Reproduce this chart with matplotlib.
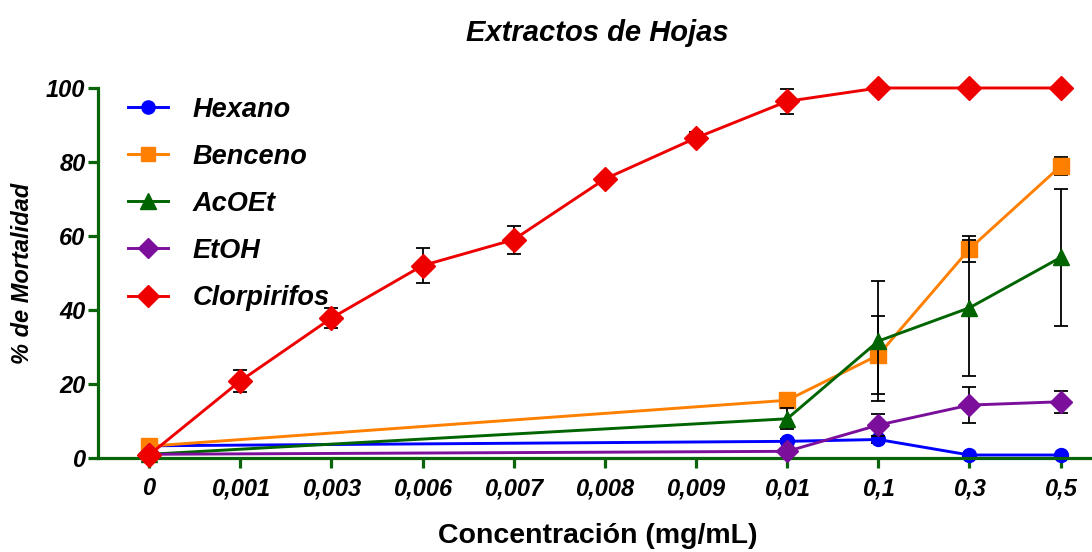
import numpy as np
import matplotlib.pyplot as plt

plt.rcParams['font.family'] = ['Liberation Sans', 'DejaVu Sans']

conc_labels = ['0', '0,001', '0,003', '0,006', '0,007', '0,008', '0,009',
               '0,01', '0,1', '0,3', '0,5']
# extracts only measured at 0, 0,01, 0,1, 0,3, 0,5
ext_idx = [0, 7, 8, 9, 10]

hexano = [3.3, 4.5, 5.0, 0.8, 0.8]
hexano_err = [0.5, 0.5, 1.0, 0.3, 0.3]
benceno = [3.2, 15.6, 27.8, 56.5, 78.9]
benceno_err = [0.5, 2.0, 10.5, 3.5, 2.4]
acoet = [1.0, 10.6, 31.6, 40.6, 54.2]
acoet_err = [0.3, 2.8, 16.2, 18.4, 18.5]
etoh = [1.0, 1.8, 8.9, 14.3, 15.2]
etoh_err = [0.3, 0.3, 3.0, 4.8, 3.0]
clorpirifos = [0.8, 20.8, 37.8, 52.0, 59.0, 75.4, 86.5, 96.4, 100, 100, 100]
clorpirifos_err = [0.3, 3.0, 2.7, 4.7, 3.8, 1.0, 1.5, 3.3, 0, 0, 0]

axis_green = '#0a640a'

fig = plt.figure(figsize=(10.92, 5.52), dpi=100)
ax = fig.add_axes([0.0897, 0.1703, 0.915, 0.6703])

series = [
    ('Hexano', ext_idx, hexano, hexano_err, '#0000ff', 'o', 10),
    ('Benceno', ext_idx, benceno, benceno_err, '#ff7f00', 's', 11),
    ('AcOEt', ext_idx, acoet, acoet_err, '#006400', '^', 12),
    ('EtOH', ext_idx, etoh, etoh_err, '#7b0f9b', 'D', 11),
    ('Clorpirifos', list(range(len(conc_labels))), clorpirifos, clorpirifos_err,
     '#ee0000', 'D', 12),
]

for i, (name, x, y, e, c, m, ms) in enumerate(series):
    ax.errorbar(x, y, yerr=e, fmt='none', ecolor='black', elinewidth=1.3,
                capsize=5, capthick=1.3, zorder=2 + i, clip_on=False)
    ax.plot(x, y, color=c, marker=m, markersize=ms, linewidth=2.1,
            label=name, zorder=2.5 + i, clip_on=False)

ax.set_xlim(-0.56, 10.4)
ax.set_ylim(0, 100)
ax.set_xticks(range(len(conc_labels)))
ax.set_xticklabels(conc_labels)
ax.set_yticks([0, 20, 40, 60, 80, 100])

for s in ['top', 'right']:
    ax.spines[s].set_visible(False)
for s in ['left', 'bottom']:
    ax.spines[s].set_color(axis_green)
    ax.spines[s].set_linewidth(2.3)
ax.tick_params(colors=axis_green, width=2.3, length=7, direction='out',
               labelcolor='black')
ax.tick_params(axis='x', pad=7)
ax.tick_params(axis='y', pad=2)
for lab in ax.get_xticklabels() + ax.get_yticklabels():
    lab.set_fontsize(17)
    lab.set_fontweight('bold')
    lab.set_fontstyle('italic')

ax.set_title('Extractos de Hojas', fontsize=21, fontweight='bold',
             fontstyle='italic', pad=34)
ax.set_xlabel('Concentración (mg/mL)', fontsize=20.5, fontweight='bold',
              labelpad=16)
ax.set_ylabel('% de Mortalidad', fontsize=17, fontweight='bold',
              fontstyle='italic', labelpad=9)

leg = ax.legend(loc='upper left', bbox_to_anchor=(0.019, 1.006), frameon=False,
                borderaxespad=0,
                prop={'size': 19.5, 'weight': 'bold', 'style': 'italic'},
                labelspacing=0.78, handlelength=1.5, handletextpad=0.9,
                markerscale=0.95)

fig.savefig('out.png', dpi=100)
